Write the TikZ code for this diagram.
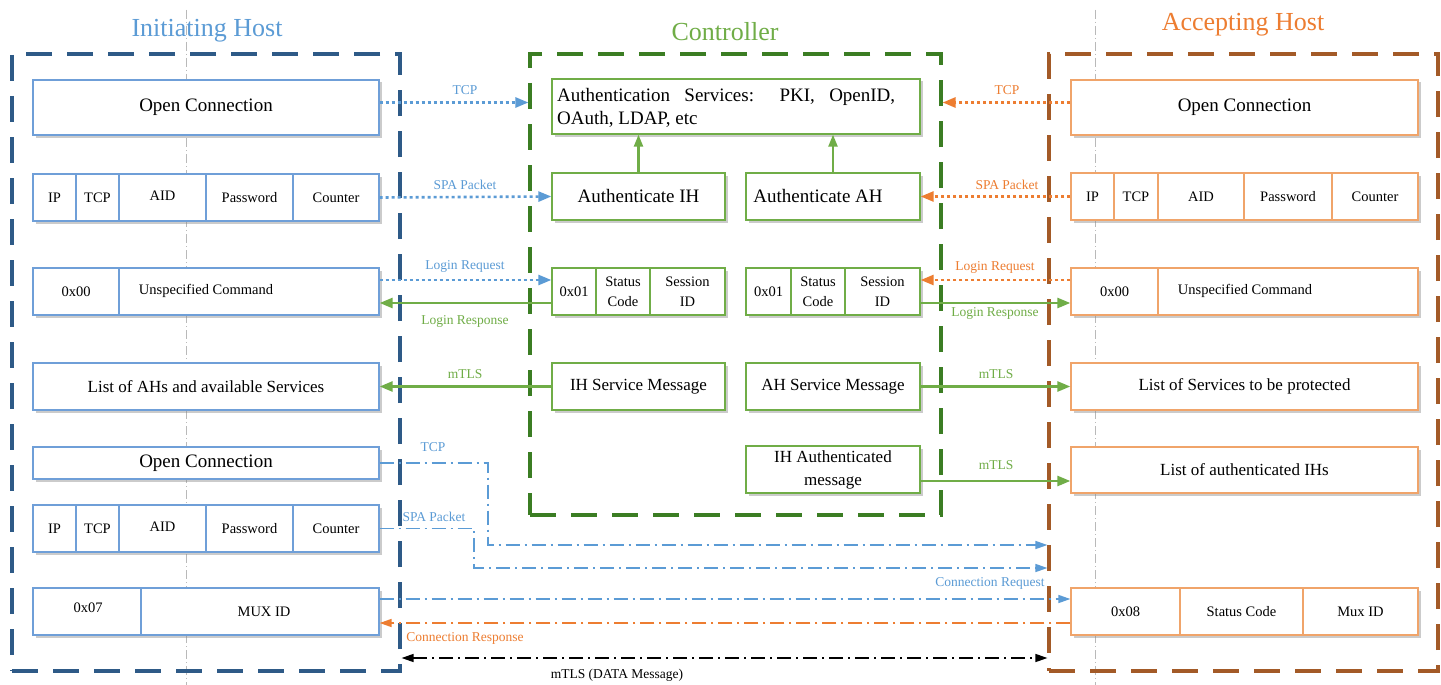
\documentclass[tikz,border=0pt]{standalone}
\usepackage{fontspec}
\setmainfont{Liberation Serif}
\usetikzlibrary{arrows.meta,shadows,calc}
\definecolor{lblue}{HTML}{5B9BD5}
\definecolor{ihdark}{HTML}{2E5A87}
\definecolor{ihbox}{HTML}{6F9FD8}
\definecolor{lgreen}{HTML}{70AD47}
\definecolor{ctdark}{HTML}{3B7D23}
\definecolor{orng}{HTML}{ED7D31}
\definecolor{ahdark}{HTML}{A35A27}
\definecolor{ahbox}{HTML}{F0A46A}
\newcommand\mybox[7]{\node[#6, minimum width={#4pt-#2pt}, minimum height={#5pt-#3pt}] (#1) at ({(#2+#4)/2},{(#3+#5)/2}) {#7};}
\tikzset{
 base/.style={draw, fill=white, inner sep=1pt, line width=1.3pt, align=center,
   drop shadow={shadow xshift=2.5pt, shadow yshift=-2.5pt, fill=black!45, opacity=0.45}},
 ihb/.style={base, draw=ihbox},
 ctb/.style={base, draw=lgreen},
 ahb/.style={base, draw=ahbox},
 big/.style={font=\fontsize{19}{23}\selectfont},
 mid/.style={font=\fontsize{17}{23}\selectfont},
 sml/.style={font=\fontsize{14.5}{20}\selectfont},
 lbl/.style={font=\fontsize{13.5}{16}\selectfont, inner sep=1pt},
 ttl/.style={font=\fontsize{26}{30}\selectfont, inner sep=1pt},
 frm/.style={draw, line width=3.2pt, dash pattern=on 26pt off 15pt, inner sep=0pt},
 guide/.style={draw=gray!55, line width=0.6pt, dash pattern=on 9pt off 3pt on 1pt off 3pt},
 tip/.style={-{Triangle[length=13pt,width=10pt]}},
 bdot/.style={draw=lblue, line width=2.6pt, dash pattern=on 3pt off 3pt, tip},
 odot/.style={draw=orng, line width=2.6pt, dash pattern=on 3pt off 3pt, tip},
 gsol/.style={draw=lgreen, line width=2.6pt, tip},
 gup/.style={draw=lgreen, line width=2.2pt, -{Triangle[length=12pt,width=9pt]}},
 bdd/.style={draw=lblue, line width=1.5pt, dash pattern=on 14pt off 5pt on 2pt off 5pt, -{Triangle[length=12pt,width=8pt]}},
 odd/.style={draw=orng, line width=1.5pt, dash pattern=on 14pt off 5pt on 2pt off 5pt, -{Triangle[length=12pt,width=8pt]}},
 kdd/.style={draw=black, line width=1.5pt, dash pattern=on 14pt off 5pt on 2pt off 5pt, {Triangle[length=12pt,width=8pt]}-{Triangle[length=12pt,width=8pt]}},
}
\begin{document}
\begin{tikzpicture}[x=1pt,y=-1pt]
\fill[white] (0,0) rectangle (1441,685);
\useasboundingbox (0,0) rectangle (1441,685);
% guide lines
\coordinate (g1t) at (186,10); \coordinate (g1b) at (186,685);
\coordinate (g2t) at (1095,10); \coordinate (g2b) at (1095,685);
\draw[guide] (g1t) -- (g1b);
\draw[guide] (g2t) -- (g2b);
% frames
\mybox{ihf}{12}{54}{400}{671}{frm,draw=ihdark}{}
\mybox{ctf}{530}{54}{941}{515}{frm,draw=ctdark}{}
\mybox{ahf}{1049}{54}{1438}{671}{frm,draw=ahdark}{}
% titles
\node[ttl, text=lblue] (t1) at (207,31) {Initiating Host};
\node[ttl, text=lgreen] (t2) at (725,32) {Controller};
\node[ttl, text=orng] (t3) at (1243,25) {Accepting Host};
% Initiating host boxes
\mybox{oc1}{33}{80}{379}{135}{ihb,big}{Open Connection}
\mybox{spa1a}{33}{174}{76}{221}{ihb,sml}{IP}
\mybox{spa1b}{76}{174}{119}{221}{ihb,sml}{TCP}
\mybox{spa1c}{119}{174}{206}{221}{ihb,sml}{\raisebox{3pt}{AID}}
\mybox{spa1d}{206}{174}{293}{221}{ihb,sml}{Password}
\mybox{spa1e}{293}{174}{379}{221}{ihb,sml}{Counter}
\mybox{lg1a}{33}{268}{119}{315}{ihb,sml}{0x00}
\mybox{lg1b}{119}{268}{379}{315}{ihb,sml}{}
\node[sml] (lg1t) at (206,291) {Unspecified Command};
\mybox{list1}{33}{363}{379}{410}{ihb,mid}{List of AHs and available Services}
\mybox{oc2}{33}{447}{379}{479}{ihb,big}{Open Connection}
\mybox{spa2a}{33}{505}{76}{552}{ihb,sml}{IP}
\mybox{spa2b}{76}{505}{119}{552}{ihb,sml}{TCP}
\mybox{spa2c}{119}{505}{206}{552}{ihb,sml}{\raisebox{3pt}{AID}}
\mybox{spa2d}{206}{505}{293}{552}{ihb,sml}{Password}
\mybox{spa2e}{293}{505}{379}{552}{ihb,sml}{Counter}
\mybox{mux1}{33}{588}{141}{635}{ihb,sml}{}
\node[sml] (mux1t) at (88,608) {0x07};
\mybox{mux2}{141}{588}{379}{635}{ihb,sml}{}
\node[sml] (mux2t) at (264,612) {MUX ID};
% Controller boxes
\mybox{auth}{552}{79}{920}{134}{ctb}{}
\node[big, align=justify, text width=338pt, anchor=west, inner sep=0pt] (autht) at (557,108)
  {Authentication Services: PKI, OpenID, OAuth, LDAP, etc};
\mybox{aih}{552}{173}{725}{220}{ctb,big}{Authenticate IH}
\mybox{aah}{746}{173}{920}{220}{ctb,big}{}
\node[big] (aaht) at (818,196) {Authenticate AH};
\mybox{st1a}{552}{268}{596}{315}{ctb,sml}{0x01}
\mybox{st1b}{596}{268}{650}{315}{ctb,sml}{Status\\Code}
\mybox{st1c}{650}{268}{725}{315}{ctb,sml}{Session\\ID}
\mybox{st2a}{746}{268}{791}{315}{ctb,sml}{0x01}
\mybox{st2b}{791}{268}{845}{315}{ctb,sml}{Status\\Code}
\mybox{st2c}{845}{268}{920}{315}{ctb,sml}{Session\\ID}
\mybox{ihs}{552}{363}{725}{410}{ctb,mid}{IH Service Message}
\mybox{ahs}{746}{363}{920}{410}{ctb,mid}{AH Service Message}
\mybox{iha}{746}{446}{920}{493}{ctb,mid}{IH Authenticated\\message}
% Accepting host boxes
\mybox{oc3}{1071}{80}{1418}{135}{ahb,big}{Open Connection}
\mybox{spa3a}{1071}{173}{1114}{220}{ahb,sml}{IP}
\mybox{spa3b}{1114}{173}{1158}{220}{ahb,sml}{TCP}
\mybox{spa3c}{1158}{173}{1244}{220}{ahb,sml}{AID}
\mybox{spa3d}{1244}{173}{1332}{220}{ahb,sml}{Password}
\mybox{spa3e}{1332}{173}{1418}{220}{ahb,sml}{Counter}
\mybox{lg3a}{1071}{268}{1158}{315}{ahb,sml}{0x00}
\mybox{lg3b}{1158}{268}{1418}{315}{ahb,sml}{}
\node[sml] (lg3t) at (1245,291) {Unspecified Command};
\mybox{los}{1071}{363}{1418}{410}{ahb,mid}{List of Services to be protected}
\mybox{lai}{1071}{447}{1418}{493}{ahb,mid}{List of authenticated IHs}
\mybox{ack1}{1071}{588}{1180}{635}{ahb,sml}{0x08}
\mybox{ack2}{1180}{588}{1303}{635}{ahb,sml}{Status Code}
\mybox{ack3}{1303}{588}{1418}{635}{ahb,sml}{Mux ID}
% left side connectors
\coordinate (a1) at ([yshift=5pt]oc1.east);
\draw[bdot] (a1) -- (a1 -| ctf.west);
\draw[bdot] (spa1e.east) -- (aih.west);
\coordinate (a3) at ([yshift=11.5pt]lg1b.east);
\draw[bdot] (a3) -- (a3 -| st1a.west);
\coordinate (a4) at ([yshift=-11.5pt]st1a.west);
\draw[gsol] (a4) -- (a4 -| lg1b.east);
\draw[gsol] (ihs.west) -- (list1.east);
% right side connectors
\coordinate (b1) at ([yshift=5pt]oc3.west);
\draw[odot] (b1) -- (b1 -| ctf.east);
\draw[odot] (spa3a.west) -- (aah.east);
\coordinate (b3) at ([yshift=11.5pt]lg3a.west);
\draw[odot] (b3) -- (b3 -| st2c.east);
\coordinate (b4) at ([yshift=-11.5pt]st2c.east);
\draw[gsol] (b4) -- (b4 -| lg3a.west);
\draw[gsol] (ahs.east) -- (los.west);
\coordinate (b6) at ([yshift=-11.5pt]iha.east);
\draw[gsol] (b6) -- (b6 -| lai.west);
% controller internal
\draw[gup] (aih.north) -- (aih.north |- auth.south);
\draw[gup] (aah.north) -- (aah.north |- auth.south);
% bottom connectors
\coordinate (c1) at (488,545);
\draw[bdd] (oc2.east) -| (c1) -- (c1 -| ahf.west);
\coordinate (c2) at (474,568);
\draw[bdd] (spa2e.east) -| (c2) -- (c2 -| ahf.west);
\coordinate (c3) at ([yshift=12.5pt]mux2.east);
\draw[bdd] (c3) -- (c3 -| ack1.west);
\coordinate (c4) at ([yshift=-11.5pt]ack1.west);
\draw[odd] (c4) -- (c4 -| mux2.east);
\coordinate (c5) at (700,658);
\draw[kdd] (c5 -| ihf.east) -- (c5 -| ahf.west);
% labels
\node[lbl,text=lblue] (l1) at (465,90) {TCP};
\node[lbl,text=lblue] (l2) at (465,185) {SPA Packet};
\node[lbl,text=lblue] (l3) at (465,266) {Login Request};
\node[lbl,text=lgreen] (l4) at (465,321) {Login Response};
\node[lbl,text=lgreen] (l5) at (465,374) {mTLS};
\node[lbl,text=orng] (r1) at (1007,90) {TCP};
\node[lbl,text=orng] (r2) at (1007,185) {SPA Packet};
\node[lbl,text=orng] (r3) at (995,267) {Login Request};
\node[lbl,text=lgreen] (r4) at (995,313) {Login Response};
\node[lbl,text=lgreen] (r5) at (996,374) {mTLS};
\node[lbl,text=lgreen] (r6) at (996,465) {mTLS};
\node[lbl,text=lblue] (d1) at (433,447) {TCP};
\node[lbl,text=lblue] (d2) at (434,517) {SPA Packet};
\node[lbl,text=lblue] (d3) at (990,583) {Connection Request};
\node[lbl,text=orng] (d4) at (465,638) {Connection Response};
\node[lbl,text=black] (d5) at (617,675) {mTLS (DATA Message)};
\end{tikzpicture}
\end{document}
